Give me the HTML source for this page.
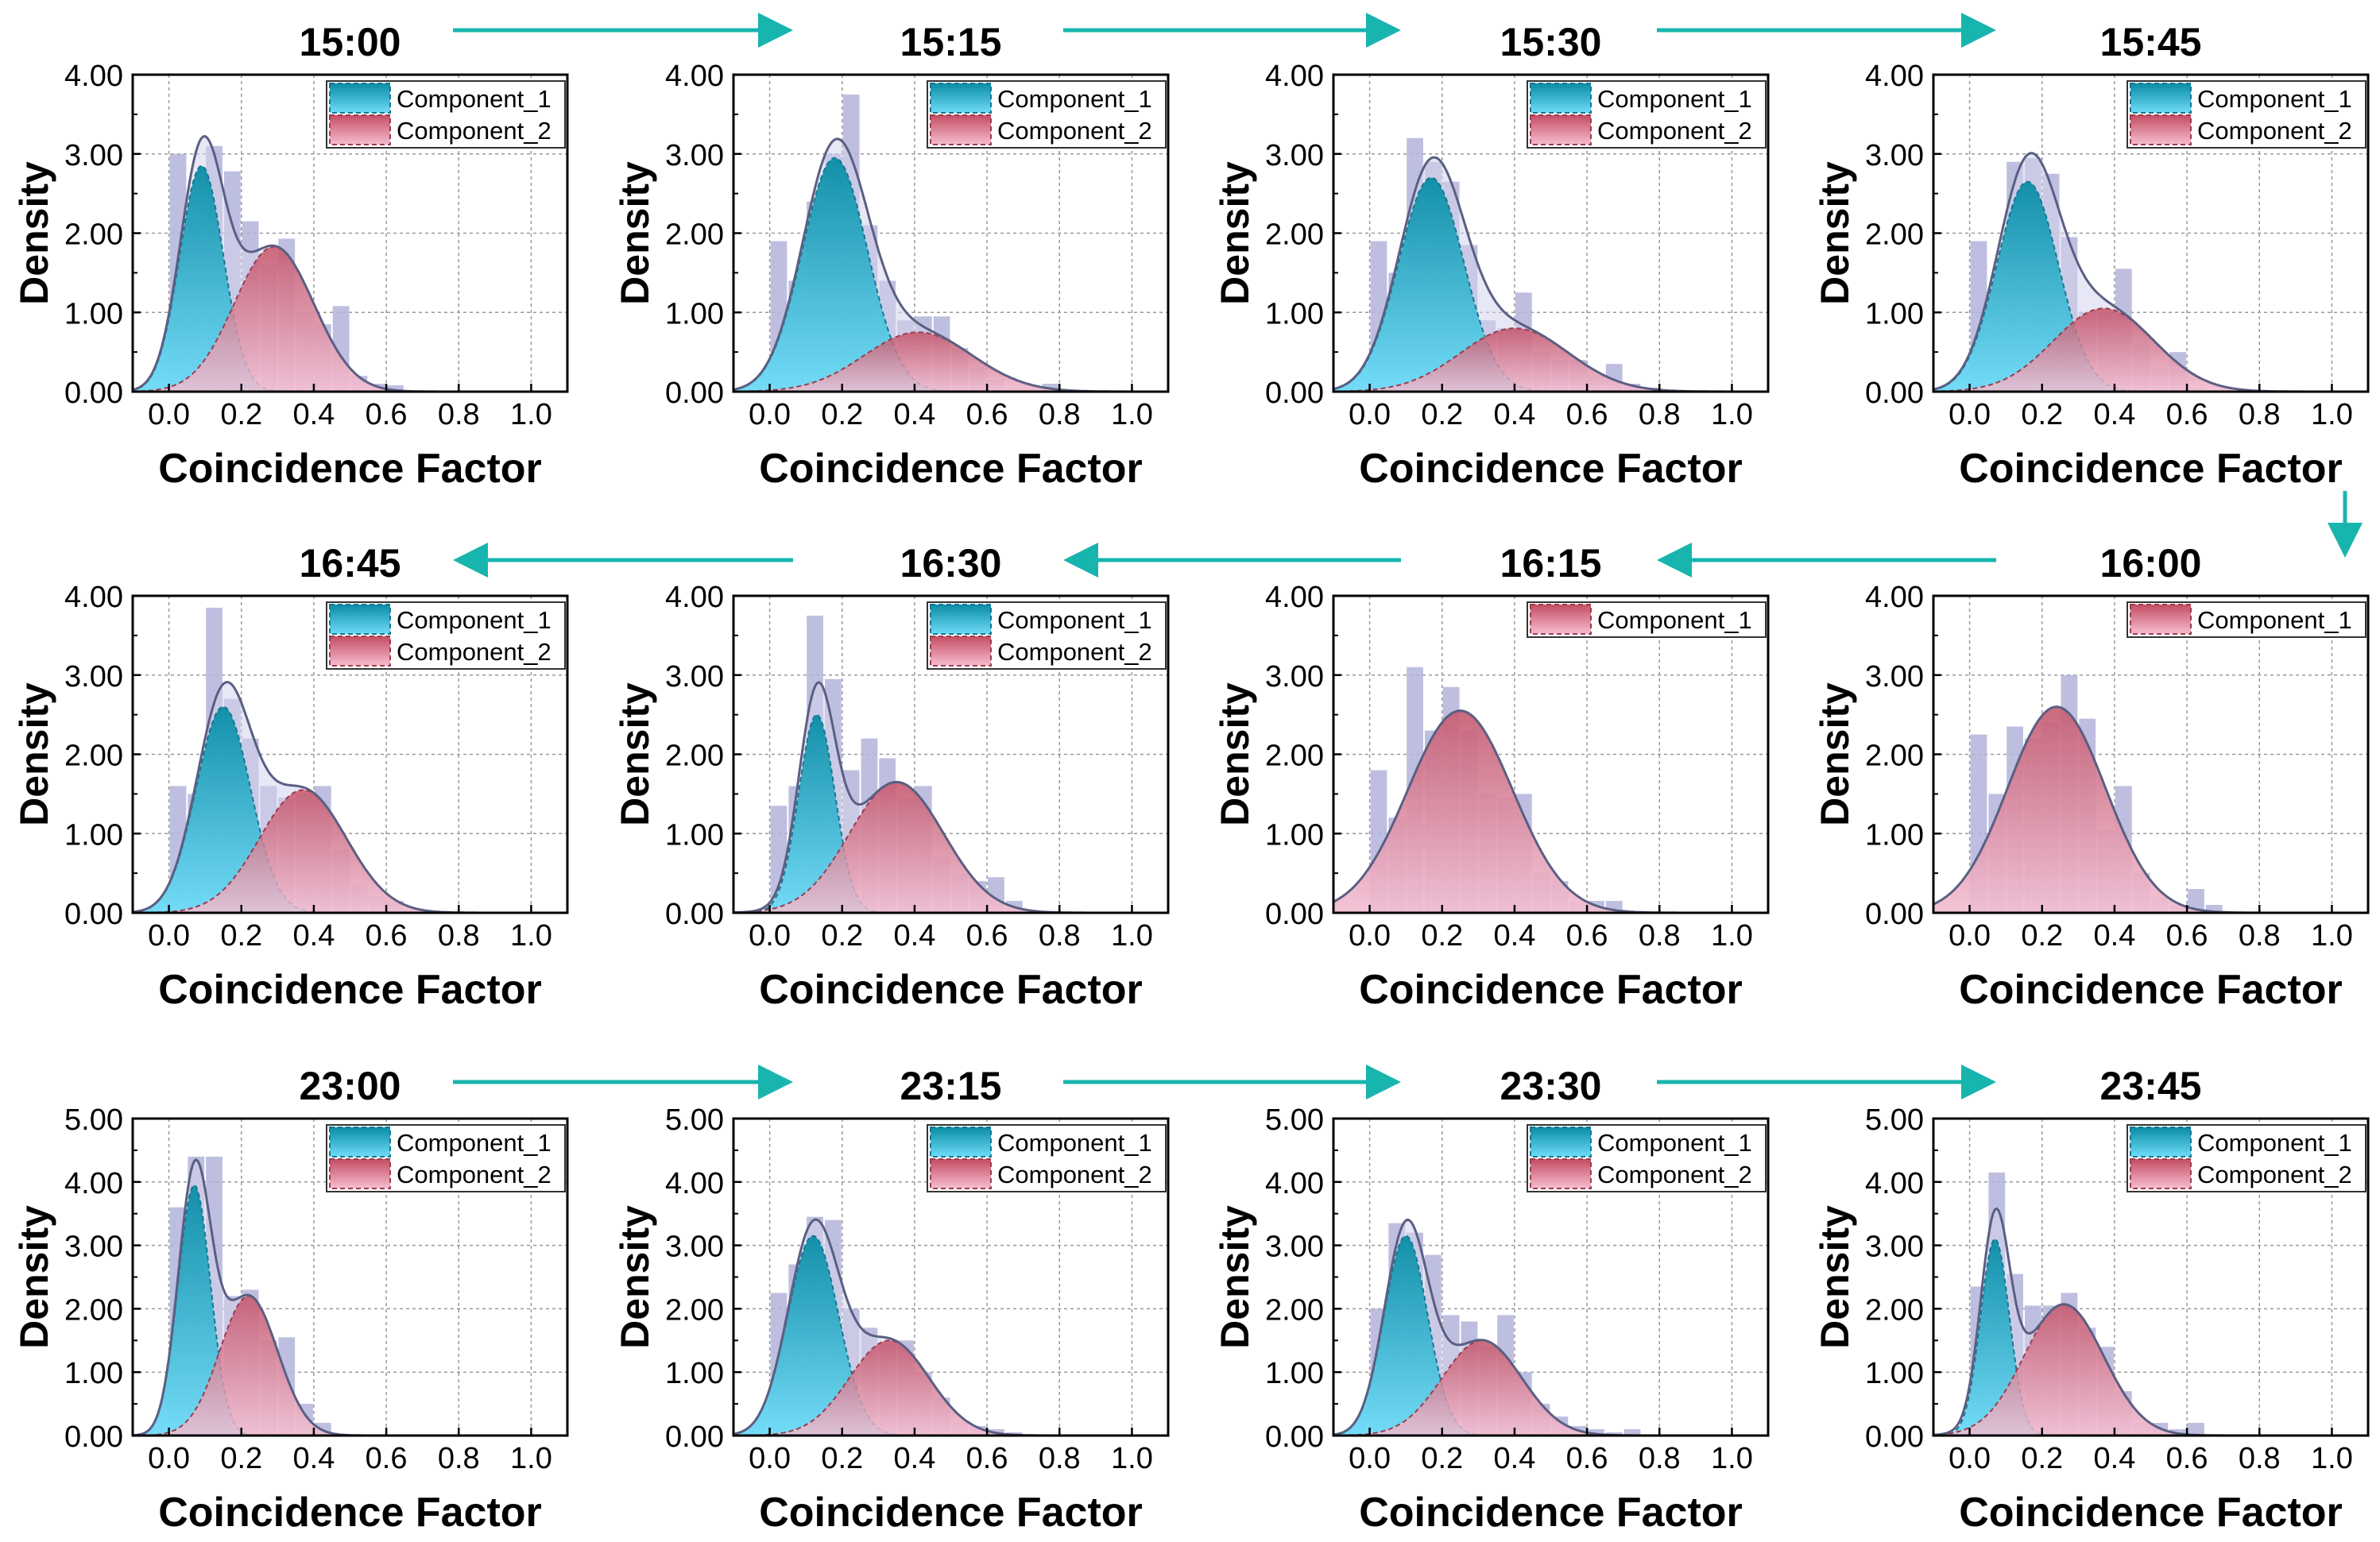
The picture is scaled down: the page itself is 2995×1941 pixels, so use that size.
<!DOCTYPE html>
<html><head><meta charset="utf-8"><style>
html,body{margin:0;padding:0;background:#fff;}
svg{display:block;font-family:"Liberation Sans",Arial,sans-serif;}
</style></head><body>
<svg id="fig" width="2995" height="1941" viewBox="0 0 2995 1941" xmlns="http://www.w3.org/2000/svg">
<defs>
<linearGradient id="g1" x1="0" y1="0" x2="0" y2="1"><stop offset="0" stop-color="#0a8ca6"/><stop offset="1" stop-color="#6fdcf8"/></linearGradient>
<linearGradient id="g2" x1="0" y1="0" x2="0" y2="1"><stop offset="0" stop-color="#c44e63"/><stop offset="1" stop-color="#f6bdd0"/></linearGradient>
</defs>
</svg>
<script>
// ---- data ----
const titles = ["15:00","15:15","15:30","15:45","16:45","16:30","16:15","16:00","23:00","23:15","23:30","23:45"];
const yMaxes = [4,4,4,4,4,4,4,4,5,5,5,5];
const nComps = [2,2,2,2,2,2,1,1,2,2,2,2];
const m1s = [0.09,0.18,0.17,0.16,0.15,0.13,0.25,0.24,0.07,0.12,0.10,0.07];
const s1s = [0.06,0.09,0.09,0.085,0.075,0.05,0.145,0.135,0.045,0.07,0.06,0.04];
const a1s = [2.85,2.95,2.7,2.65,2.6,2.5,2.55,2.6,3.95,3.15,3.15,3.1];
const m2s = [0.29,0.41,0.40,0.37,0.37,0.35,0,0,0.22,0.33,0.31,0.26];
const s2s = [0.11,0.15,0.15,0.14,0.12,0.13,1,1,0.08,0.11,0.11,0.11];
const a2s = [1.83,0.75,0.8,1.05,1.55,1.65,0,0,2.2,1.5,1.5,2.07];
const binStart = 0.0, binWidth = 0.05;
const hist = [
 [3.0,2.2,3.1,2.78,2.15,1.6,1.93,1.0,0.85,1.08,0.2,0.1,0.08],
 [1.9,1.4,2.4,3.0,3.75,2.1,1.4,0.9,0.95,0.95,0.55,0.3,0.15,0.05,0.05,0.1],
 [1.9,1.5,3.2,2.9,2.65,1.85,0.9,0.8,1.25,0.5,0.4,0.4,0.2,0.35,0.1,0.05],
 [1.9,1.3,2.9,2.95,2.75,1.95,1.0,1.0,1.55,0.6,0.3,0.5,0.05],
 [1.6,1.5,3.85,2.7,2.2,1.6,1.45,1.5,1.6,0.8,0.35,0.2,0.15,0.05],
 [1.35,1.6,3.75,2.95,1.8,2.2,1.95,1.45,1.6,0.7,0.5,0.4,0.45,0.15],
 [1.8,1.2,3.1,2.3,2.85,2.3,1.5,1.45,1.5,0.5,0.4,0.15,0.15,0.15],
 [2.25,1.5,2.35,2.2,2.4,3.0,2.45,1.05,1.6,0.5,0.2,0.1,0.3,0.1],
 [3.6,4.4,4.4,2.2,2.3,1.5,1.55,0.5,0.2],
 [2.25,2.7,3.45,3.4,2.0,1.7,1.45,1.5,1.0,0.6,0.2,0.15,0.1,0.05],
 [2.0,3.35,3.2,2.85,1.9,1.8,1.4,1.9,1.0,0.5,0.3,0.15,0.1,0.05,0.1],
 [2.35,4.15,2.55,2.05,2.05,2.25,1.7,1.4,0.7,0.2,0.2,0.1,0.2]
];
const xTicks = [0.0,0.2,0.4,0.6,0.8,1.0];
const xTickLabels = ["0.0","0.2","0.4","0.6","0.8","1.0"];
const yTickLabels4 = ["0.00","1.00","2.00","3.00","4.00"];
const yTickLabels5 = ["0.00","1.00","2.00","3.00","4.00","5.00"];

// ---- layout ----
const NS = "http://www.w3.org/2000/svg";
const svg = document.getElementById("fig");
const colLeft = [167,923,1678,2433];
const rowTop = [94,750,1408];
const PW = 547, PH = 399;
const XMIN = -0.1, XMAX = 1.1;
function mk(tag, attrs, parent){ const e=document.createElementNS(NS,tag); for(const k in attrs) e.setAttribute(k,attrs[k]); (parent||svg).appendChild(e); return e; }
function gauss(x,m,s,a){ return a*Math.exp(-(x-m)*(x-m)/(2*s*s)); }

titles.forEach((t,i)=>{
  const r=Math.floor(i/4), c=i%4;
  const L=colLeft[c], T=rowTop[r], B=T+PH, R=L+PW;
  const ymax=yMaxes[i];
  const sx=v=>L+(v-XMIN)/(XMAX-XMIN)*PW;
  const sy=v=>B-v/ymax*PH;
  const g=mk("g",{});
  
  
  xTicks.forEach(v=>{ const ln=mk("line",{x1:sx(v),x2:sx(v),y1:T,y2:B,stroke:"#999","stroke-width":1.5,"stroke-dasharray":"4 4"},g);
      });
  for(let k=1;k<ymax;k++){ const ln=mk("line",{x1:L,x2:R,y1:sy(k),y2:sy(k),stroke:"#999","stroke-width":1.5,"stroke-dasharray":"4 4"},g);
      }
  hist[i].forEach((h,k)=>{ const x0=binStart+k*binWidth;
    const b=mk("rect",{x:sx(x0)+1,y:sy(h),width:sx(x0+binWidth)-sx(x0)-2,height:B-sy(h),fill:"#b3b4da","fill-opacity":0.85},g);
      });
  const N=240; const xs=[]; for(let k=0;k<=N;k++) xs.push(XMIN+(XMAX-XMIN)*k/N);
  const c1=x=>nComps[i]===2?gauss(x,m1s[i],s1s[i],a1s[i]):0;
  const c2=x=>nComps[i]===2?gauss(x,m2s[i],s2s[i],a2s[i]):gauss(x,m1s[i],s1s[i],a1s[i]);
  const mix=x=>c1(x)+c2(x);
  const area=f=>"M"+sx(XMIN)+","+B+" "+xs.map(x=>"L"+sx(x).toFixed(1)+","+sy(Math.min(f(x),ymax)).toFixed(1)).join(" ")+" L"+sx(XMAX)+","+B+"Z";
  const line=f=>xs.map((x,k)=>(k?"L":"M")+sx(x).toFixed(1)+","+sy(Math.min(f(x),ymax)).toFixed(1)).join(" ");
  const mf=mk("path",{d:area(mix),fill:"#d4d4ec","fill-opacity":0.55},g);
   
  if(nComps[i]===2){
    const p1=mk("path",{d:area(c1),fill:"url(#g1)","fill-opacity":0.95,stroke:"#17788e","stroke-width":2,"stroke-dasharray":"6 4"},g);
     
    const p2=mk("path",{d:area(c2),fill:"url(#g2)","fill-opacity":0.82,stroke:"#9c3c4e","stroke-width":2,"stroke-dasharray":"6 4"},g);
     
  } else {
    const p2=mk("path",{d:area(c2),fill:"url(#g2)","fill-opacity":0.82,stroke:"#9c3c4e","stroke-width":2,"stroke-dasharray":"6 4"},g);
     
  }
  const ml=mk("path",{d:line(mix),fill:"none",stroke:"#5a5f82","stroke-width":3},g);
   
  const fr=mk("rect",{x:L,y:T,width:PW,height:PH,fill:"none",stroke:"#000","stroke-width":3},g);
   
  xTicks.forEach((v,k)=>{
    const tk=mk("line",{x1:sx(v),x2:sx(v),y1:B,y2:B-10,stroke:"#000","stroke-width":2.5},g);
     
    const tl=mk("text",{x:sx(v),y:B+41,"font-size":38,"text-anchor":"middle",fill:"#000"},g); tl.textContent=xTickLabels[k];
     
  });
  const ylabs=ymax===5?yTickLabels5:yTickLabels4;
  ylabs.forEach((lab,k)=>{
    const tk=mk("line",{x1:L,x2:L+10,y1:sy(k),y2:sy(k),stroke:"#000","stroke-width":2.5},g);
     
    if(k<ymax){ const mt=mk("line",{x1:L,x2:L+6,y1:sy(k+0.5),y2:sy(k+0.5),stroke:"#000","stroke-width":2},g);
        }
    const tl=mk("text",{x:L-12,y:sy(k)+14,"font-size":38,"text-anchor":"end",fill:"#000"},g); tl.textContent=lab;
     
  });
  const ti=mk("text",{x:L+PW/2,y:T-24,"font-size":50,"font-weight":"bold","text-anchor":"middle"},g); ti.textContent=t;
   
  const xl=mk("text",{x:L+PW/2,y:B+114,"font-size":52,"font-weight":"bold","text-anchor":"middle"},g); xl.textContent="Coincidence Factor";
   
  const yl=mk("text",{x:0,y:0,"font-size":50,"font-weight":"bold","text-anchor":"middle",transform:"translate("+(L-107)+","+(T+PH/2)+") rotate(-90)"},g); yl.textContent="Density";
   
  const nRows=nComps[i];
  const lx=L+244, ly=T+8;
  const lg=mk("g",{},g);
   
  mk("rect",{x:lx,y:ly,width:300,height:nRows*40+4,fill:"#fff",stroke:"#333","stroke-width":2},lg);
  for(let k=0;k<nRows;k++){
    const isBlue = nRows===2 && k===0;
    const sw=mk("rect",{x:lx+4,y:ly+3+k*40,width:76,height:37,fill:isBlue?"url(#g1)":"url(#g2)",stroke:isBlue?"#17788e":"#9c3c4e","stroke-width":2,"stroke-dasharray":"6 4"},lg);
     
    const lt=mk("text",{x:lx+88,y:ly+33+k*40,"font-size":31,fill:"#000"},lg); lt.textContent="Component_"+(k+1);
     
  }
});

const TEAL="#17b5ad";
function arrow(x1,y1,x2,y2){
  const g=mk("g",{});
   
  const dx=x2-x1, dy=y2-y1, len=Math.hypot(dx,dy), ux=dx/len, uy=dy/len;
  const hl=44, hw=22;
  const bx=x2-ux*hl, by=y2-uy*hl;
  mk("line",{x1:x1,y1:y1,x2:bx,y2:by,stroke:TEAL,"stroke-width":5},g);
  mk("polygon",{points:[x2,y2, bx-uy*hw,by+ux*hw, bx+uy*hw,by-ux*hw].join(","),fill:TEAL},g);
}
arrow(570,38,998,38); arrow(1338,38,1763,38); arrow(2085,38,2512,38);
arrow(2951,618,2951,702);
arrow(2512,705,2085,705); arrow(1763,705,1338,705); arrow(998,705,570,705);
arrow(570,1362,998,1362); arrow(1338,1362,1763,1362); arrow(2085,1362,2512,1362);
</script>
</body></html>
